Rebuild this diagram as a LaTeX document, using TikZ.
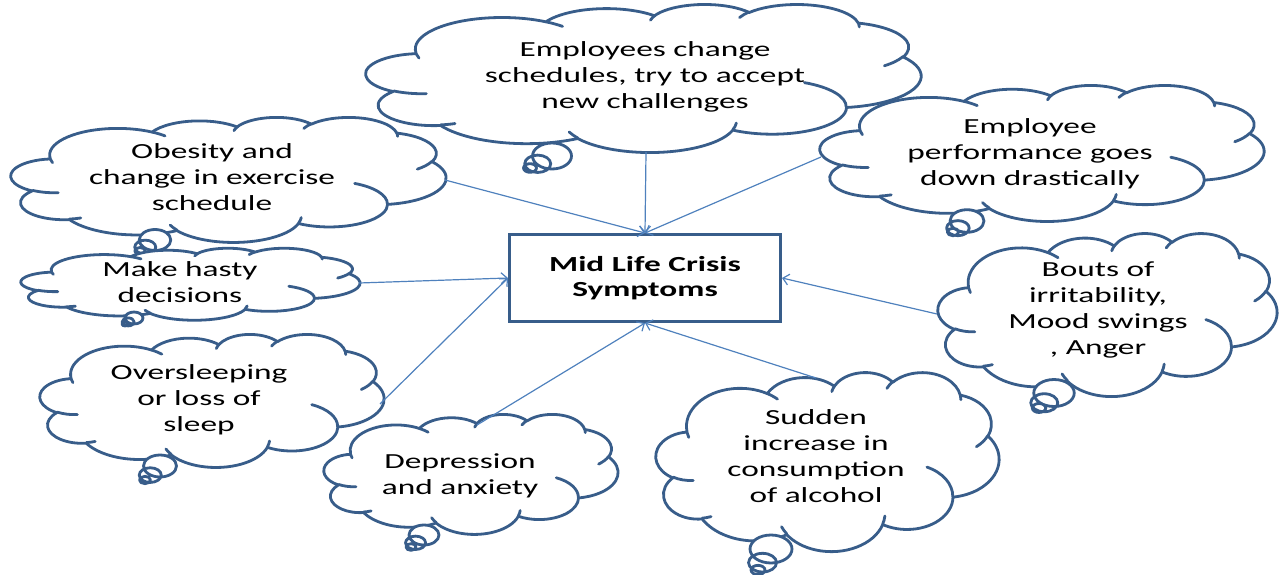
\documentclass[tikz,border=0pt]{standalone}
\usepackage{fontspec}
\newfontfamily\cloudfont[FakeStretch=1.55]{Carlito}
\usetikzlibrary{arrows.meta,calc}
\definecolor{cloudblue}{HTML}{385D8A}
\definecolor{arrowblue}{HTML}{4F81BD}

\tikzset{
  cloudline/.style={draw=cloudblue, line width=2.8pt, line join=round, line cap=round},
  cloudtext/.style={font=\cloudfont\fontsize{21.5}{26}\selectfont, align=center, text=black, inner sep=0pt},
  hub/.style={draw=cloudblue, line width=3pt, fill=white, minimum width=271pt, minimum height=87pt,
              font=\cloudfont\bfseries\fontsize{21.5}{25}\selectfont, align=center, inner sep=0pt},
  link/.style={draw=arrowblue, line width=1.2pt, -{Straight Barb[length=6pt,width=11pt]}}
}

% elliptical arc given by its visual start angle and sweep (degrees)
\newcommand\oarc[4]{arc[x radius=#1, y radius=#2,
  start angle={atan2((#1)*sin(#3),(#2)*cos(#3))},
  delta angle={mod(atan2((#1)*sin((#3)+(#4)),(#2)*cos((#3)+(#4)))-atan2((#1)*sin(#3),(#2)*cos(#3))+720,360)}]}

% cloud outline inside the box (x0,y0)-(x1,y1); drawn on a 432 x 432 grid
\newcommand\officecloud[4]{%
  \begin{scope}[shift={(#1,#2)}, xscale={(#3-#1)/432}, yscale={(#4-#2)/432}]
    \path[cloudline, fill=white] (39,143.7)
      \oarc{67.53}{91.90}{-190.4875}{123.7805}
      \oarc{53.33}{72.67}{-144.1024}{89.9452}
      \oarc{43.65}{59.45}{-145.8079}{99.7230}
      \oarc{48.57}{65.95}{-130.9861}{117.2417}
      \oarc{53.33}{72.73}{-78.7089}{109.0269}
      \oarc{67.75}{92.20}{-46.2673}{130.2690}
      \oarc{57.85}{78.67}{0.6250}{114.0333}
      \oarc{67.52}{92.15}{22.4516}{115.1726}
      \oarc{77.20}{105.43}{66.2426}{75.7110}
      \oarc{43.60}{59.18}{-274.9421}{146.7356}
      \oarc{43.45}{59.45}{-246.8285}{152.5189} -- cycle;
    \path[cloudline]
      (46.93,261.77) \oarc{43.45}{59.45}{86.7420}{26.4295}
      (69.28,348.99) \oarc{43.60}{59.18}{73.6105}{11.4475}
      (164.78,390.90) \oarc{67.52}{92.15}{137.6242}{14.0811}
      (288.27,347.51) \oarc{67.52}{92.15}{6.4533}{15.9984}
      (341.29,229.54) \oarc{57.85}{78.67}{-70.2924}{70.9174}
      (417.98,153.54) \oarc{53.33}{72.73}{30.3180}{27.7515}
      (383.24,54.26) \oarc{48.57}{65.95}{-13.7443}{14.8589}
      (290.78,39.52) \oarc{48.57}{65.95}{-149.1815}{18.1954}
      (221.41,47.20) \oarc{43.65}{59.45}{-163.4943}{17.6864}
      (140.00,51.92) \oarc{67.53}{91.90}{-66.7070}{12.3194}
      (41.27,157.89) \oarc{67.53}{91.90}{156.6074}{10.1323};
  \end{scope}}

% thought bubbles: tip (#1,#2), largest ring at (#3,#4), its vertical radius #5
\newcommand\tailrings[5]{%
  \path[cloudline, fill=white]
    (#3,#4) ellipse[x radius={1.5*#5}, y radius={#5}]
    ($(#1,#2)!0.35!(#3,#4)$) ellipse[x radius={1.0*#5}, y radius={0.667*#5}]
    (#1,#2) ellipse[x radius={0.5*#5}, y radius={0.333*#5}];}

\begin{document}
\begin{tikzpicture}[x=1pt,y=-1pt]
  \useasboundingbox (0,0) rectangle (1279,575);

  % clouds
  \officecloud{366}{4}{921}{152}
  \tailrings{530}{168}{552}{156}{13}
  \officecloud{11}{117}{446}{242}
  \tailrings{140}{251}{155}{240}{10.5}
  \officecloud{21}{248}{360}{320}
  \tailrings{125}{324}{134}{318}{6}
  \officecloud{40}{334}{384}{467}
  \tailrings{145}{480}{160}{466}{11}
  \officecloud{324}{414}{618}{534}
  \tailrings{411}{547}{424}{535}{10}
  \officecloud{656}{372}{999}{551}
  \tailrings{758}{570}{771}{549}{14}
  \officecloud{938}{233}{1277}{396}
  \tailrings{1039}{408}{1054}{393}{13.5}
  \officecloud{820}{85}{1264}{221}
  \tailrings{953}{232}{967}{221}{11.3}

  % texts
  \node[cloudtext] (t1) at (645,77) {Employees change\\schedules, try to accept\\new challenges};
  \node[cloudtext] (t2) at (212,177) {Obesity and\\change in exercise\\schedule};
  \node[cloudtext] (t3) at (180,282) {Make hasty\\decisions};
  \node[cloudtext] (t4) at (199,400) {Oversleeping\\or loss of\\sleep};
  \node[cloudtext] (t5) at (460,476) {Depression\\and anxiety};
  \node[cloudtext] (t6) at (816,456) {Sudden\\increase in\\consumption\\of alcohol};
  \node[cloudtext] (t7) at (1098,310) {Bouts of\\irritability,\\Mood swings\\, Anger};
  \node[cloudtext] (t8) at (1030,154) {Employee\\performance goes\\down drastically};

  % central box
  \node[hub] (hub) at (645,278) {Mid Life Crisis\\Symptoms};

  % connector starts on the cloud outlines
  \coordinate (s1) at (646,152);
  \coordinate (s2) at (445,180);
  \coordinate (s3) at (359,283);
  \coordinate (s4) at (380,404);
  \coordinate (s5) at (477,425);
  \coordinate (s6) at (816,378);
  \coordinate (s7) at (937,314);
  \coordinate (s8) at (821,157);

  \draw[link] (s1) -- (hub.north);
  \draw[link] (s2) -- (hub.north);
  \draw[link] (s8) -- (hub.north);
  \draw[link] (s3) -- (hub.west);
  \draw[link] (s4) -- (hub.west);
  \draw[link] (s5) -- (hub.south);
  \draw[link] (s6) -- (hub.south);
  \draw[link] (s7) -- (hub.east);
\end{tikzpicture}
\end{document}
